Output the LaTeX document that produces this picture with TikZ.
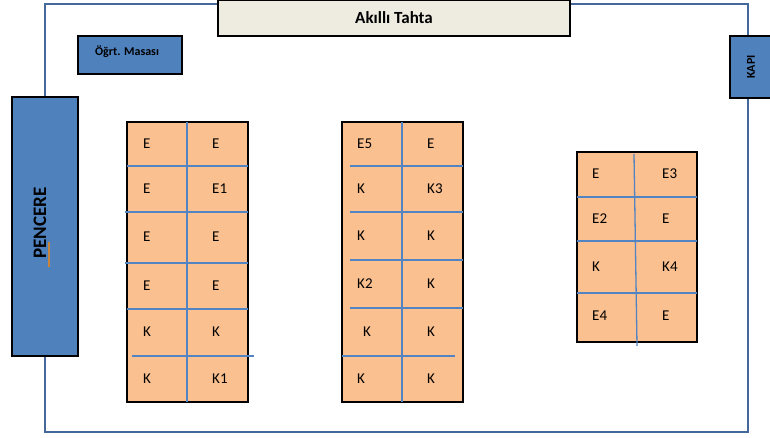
\documentclass[tikz,border=0pt]{standalone}
\usepackage{fontspec}
\setmainfont{Carlito}
\definecolor{wallblue}{HTML}{44689C}
\definecolor{itemblue}{HTML}{4F81BD}
\definecolor{seamblue}{HTML}{5283C2}
\definecolor{deskorange}{HTML}{FAC090}
\definecolor{boardgray}{HTML}{EEECE1}
\definecolor{markorange}{HTML}{C8843C}

\begin{document}
\begin{tikzpicture}[x=1pt,y=-1pt]
	\tikzstyle{wall}=[draw=wallblue, line width=2.6pt]
	\tikzstyle{item}=[draw=black, fill=itemblue, line width=1.2pt, inner sep=0pt, font=\bfseries]
	\tikzstyle{desk}=[draw=black, fill=deskorange, line width=1.2pt]
	\tikzstyle{seam}=[draw=seamblue, line width=1.3pt]
	\tikzstyle{seat}=[anchor=west, inner sep=0pt, font=\fontsize{15}{15}\selectfont]

	\useasboundingbox (0,0) rectangle (770,438);
	\draw[wall] (45,4) rectangle (748,432);

	\node[item, fill=boardgray, minimum width=352pt, minimum height=36pt, font=\bfseries\fontsize{17}{17}\selectfont] (tahta) at (394,18) {Akıllı Tahta};
	\node[item, minimum width=104pt, minimum height=38pt] (masa) at (130,55) {};
	\node[font=\bfseries\fontsize{12}{12}\selectfont, inner sep=0pt] (masayazi) at (127,52) {Öğrt. Masası};
	\node[item, minimum width=42pt, minimum height=62pt] (kapi) at (751,67) {};
	\node[rotate=90, font=\bfseries\fontsize{12}{12}\selectfont, inner sep=0pt] (kapiyazi) at (751,67) {KAPI};
	\node[item, minimum width=66pt, minimum height=259pt] (pencere) at (45,226.5) {};
	\node[rotate=90, font=\bfseries\fontsize{19}{19}\selectfont, inner sep=0pt] (penceyazi) at (40,223) {PENCERE};
	\draw[markorange, line width=2pt] (49,242) -- (49,267);

	\draw[desk] (127,122) rectangle (248,402);
	\draw[seam] (187,122) -- (187,402);
	\draw[seam] (127,166) -- (248,166);
	\draw[seam] (125,212) -- (248,212);
	\draw[seam] (125,263) -- (248,263);
	\draw[seam] (127,309) -- (248,309);
	\draw[seam] (132,356) -- (254,356);
	\foreach \y/\a/\b in {144/E/E, 189/E/E1, 237/E/E, 286/E/E, 332/K/K, 379/K/K1}
	{
		\node[seat] (sol-\y-a) at (143,\y) {\a};
		\node[seat] (sol-\y-b) at (212,\y) {\b};
	}

	\draw[desk] (342,122) rectangle (463,402);
	\draw[seam] (402,122) -- (402,402);
	\draw[seam] (350,166) -- (463,166);
	\draw[seam] (350,212) -- (463,212);
	\draw[seam] (350,260) -- (463,260);
	\draw[seam] (350,308) -- (463,308);
	\draw[seam] (342,356) -- (455,356);
	\foreach \y/\x/\a/\b in {144/357/E5/E, 189/357/K/K3, 236/357/K/K, 284/357/K2/K, 332/363/K/K, 379/357/K/K}
	{
		\node[seat] (orta-\y-a) at (\x,\y) {\a};
		\node[seat] (orta-\y-b) at (427,\y) {\b};
	}

	\draw[desk] (577,152) rectangle (697,342);
	\draw[seam] (634,154) -- (637,346);
	\draw[seam] (577,197) -- (697,197);
	\draw[seam] (577,241) -- (697,241);
	\draw[seam] (577,293) -- (697,293);
	\foreach \y/\a/\b in {174/E/E3, 219/E2/E, 267/K/K4, 316/E4/E}
	{
		\node[seat] (sag-\y-a) at (592,\y) {\a};
		\node[seat] (sag-\y-b) at (662,\y) {\b};
	}
\end{tikzpicture}
\end{document}
